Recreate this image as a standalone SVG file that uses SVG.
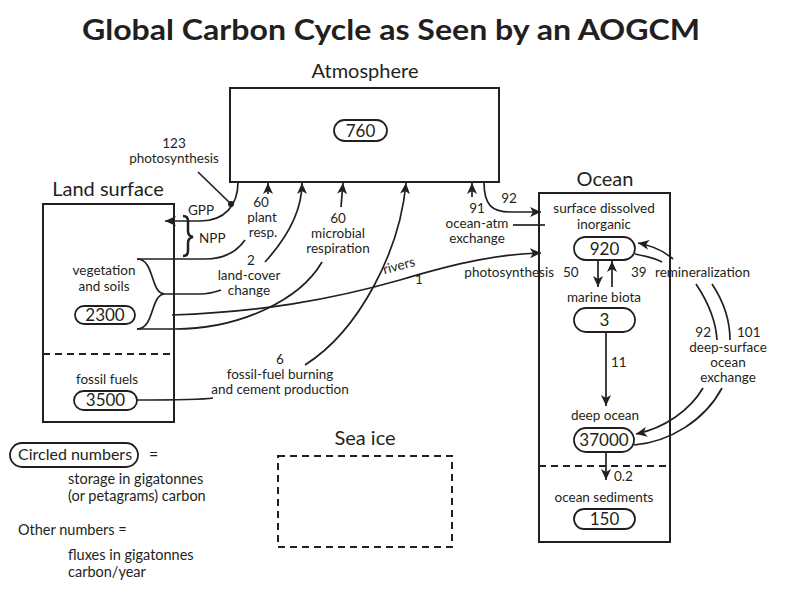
<svg xmlns="http://www.w3.org/2000/svg" width="788" height="598" viewBox="0 0 788 598">
<defs>
<marker id="ah" markerUnits="userSpaceOnUse" markerWidth="12" markerHeight="10" refX="11" refY="5" orient="auto">
<path d="M0,0 L11,5 L0,10 L3,5 z" fill="#231f20"/>
</marker>
<style>
text{font-family:Lato,"Open Sans","Liberation Sans",sans-serif;fill:#231f20}
.t{font-size:13.5px}
.c{text-anchor:middle}
.h{font-size:20px}
.n{font-size:17px;text-anchor:middle}
.lg{font-size:14.5px}
.box{fill:none;stroke:#231f20;stroke-width:2}
.dash{fill:none;stroke:#231f20;stroke-width:2;stroke-dasharray:7,5}
.pill{fill:#fff;stroke:#231f20;stroke-width:1.8}
.ln{fill:none;stroke:#231f20;stroke-width:1.7}
.ar{fill:none;stroke:#231f20;stroke-width:1.7;marker-end:url(#ah)}
</style>
</defs>
<rect width="788" height="598" fill="#fff"/>
<text x="391" y="40" text-anchor="middle" font-size="28" font-weight="bold" textLength="618" lengthAdjust="spacingAndGlyphs">Global Carbon Cycle as Seen by an AOGCM</text>

<g id="atmosphere">
<text class="h c" x="365" y="78">Atmosphere</text>
<rect class="box" x="230" y="88" width="269" height="94"/>
<rect class="pill" x="334" y="120" width="53" height="21" rx="10.5"/>
<text class="n" x="360.5" y="137">760</text>
</g>

<g id="land">
<text class="h c" x="108" y="196">Land surface</text>
<rect class="box" x="43" y="204" width="131" height="218"/>
<line class="dash" x1="43" y1="354" x2="174" y2="354"/>
<text class="t c" x="104" y="275" font-size="14.5">vegetation</text>
<text class="t c" x="104" y="291" font-size="14.5">and soils</text>
<rect class="pill" x="75" y="306" width="60" height="18" rx="9"/>
<text class="n" x="105" y="321" font-size="16">2300</text>
<text class="t c" x="107" y="384" font-size="14.5">fossil fuels</text>
<rect class="pill" x="74" y="391" width="63" height="19" rx="9.5"/>
<text class="n" x="105.5" y="406" font-size="16">3500</text>
</g>

<g id="ocean">
<text class="h c" x="605" y="186">Ocean</text>
<rect class="box" x="539" y="193" width="131" height="349"/>
<line class="dash" x1="539" y1="466" x2="670" y2="466"/>
<text class="t c" x="604" y="213" font-size="14.5">surface dissolved</text>
<text class="t c" x="604" y="229" font-size="14.5">inorganic</text>
<rect class="pill" x="574" y="237" width="61" height="23" rx="11.5"/>
<text class="n" x="604.5" y="255">920</text>
<text class="t c" x="604" y="302" font-size="14.5">marine biota</text>
<rect class="pill" x="574" y="308" width="61" height="24" rx="12"/>
<text class="n" x="604.5" y="326">3</text>
<text class="t c" x="605" y="420" font-size="14.5">deep ocean</text>
<rect class="pill" x="574" y="428" width="60" height="24" rx="12"/>
<text class="n" x="604" y="446">37000</text>
<text class="t c" x="604" y="502" font-size="14.5">ocean sediments</text>
<rect class="pill" x="574" y="509" width="61" height="20" rx="10"/>
<text class="n" x="604.5" y="525">150</text>
</g>

<g id="seaice">
<text class="h c" x="365" y="445">Sea ice</text>
<rect class="dash" x="278" y="456" width="174" height="91"/>
</g>

<g id="legend">
<rect class="pill" x="10" y="443" width="128" height="24" rx="12"/>
<text x="18" y="460" font-size="16">Circled numbers</text>
<text x="149" y="460" font-size="16">=</text>
<text class="lg" x="68" y="484">storage in gigatonnes</text>
<text class="lg" x="68" y="501">(or petagrams) carbon</text>
<text class="lg" x="18" y="535">Other numbers =</text>
<text class="lg" x="68" y="560">fluxes in gigatonnes</text>
<text class="lg" x="68" y="577">carbon/year</text>
</g>

<g id="connectors">
<path class="ar" d="M238,182 C238,205 225,221 200,221 L165,221"/>
<line class="ln" x1="198" y1="172" x2="231" y2="204"/>
<circle cx="231" cy="204" r="3" fill="#231f20"/>
<path d="M183,216 Q188,216 188,221 L188,231 Q188,236 193,237 Q188,238 188,243 L188,251 Q188,256 183,256" fill="none" stroke="#231f20" stroke-width="2.5"/>
<path class="ln" d="M137,259 C155,259 150,294 165,294 C150,294 155,329 137,329"/>
<path class="ln" d="M137,259 L205,259 C225,259 238,250 245,240"/>
<path class="ln" d="M165,294 L200,294 C210,294 215,292 221,290"/>
<path class="ln" d="M137,329 L175,329 C240,329 300,300 322,262"/>
<path class="ar" d="M268,194 L268,183"/>
<path class="ar" d="M265,262 C285,240 302,212 302,183"/>
<path class="ar" d="M341,207 L343,183"/>
<path class="ln" d="M137,400 C170,400 200,400 213,398"/>
<path class="ar" d="M305,365 C360,330 400,250 406,183"/>
<path class="ar" d="M172,315 C260,312 330,300 400,280 C460,262 500,254 541,253"/>
<path class="ar" d="M472,197 L472,183"/>
<path class="ar" d="M484,182 C484,205 492,212 510,212 L541,212"/>
<line class="ln" x1="513" y1="225" x2="545" y2="225"/>
<path class="ar" d="M598,260 L598,287"/>
<path class="ar" d="M612,287 L612,261"/>
<path class="ar" d="M606,332 L606,406"/>
<path class="ar" d="M606,452 L606,480"/>
<path class="ar" d="M673,259 C665,252 655,246 638,243"/>
<path class="ln" d="M635,254 C645,256 655,258 662,262"/>
<path class="ln" d="M712,284 C724,302 730,322 730,340"/>
<path class="ln" d="M696,284 C708,302 716,322 717,340"/>
<path class="ar" d="M703,388 C690,410 665,428 636,434"/>
<path class="ln" d="M722,388 C705,420 670,442 634,445"/>
</g>

<g id="labels">
<text class="t c" x="174" y="148">123</text>
<text class="t c" x="174" y="163">photosynthesis</text>
<text class="t" x="188" y="215" font-size="15">GPP</text>
<text class="t" x="199" y="243" font-size="15">NPP</text>
<text class="t c" x="261" y="207">60</text>
<text class="t c" x="262" y="222">plant</text>
<text class="t c" x="263" y="237">resp.</text>
<text class="t c" x="251" y="265">2</text>
<text class="t c" x="249" y="280">land-cover</text>
<text class="t c" x="249" y="295">change</text>
<text class="t c" x="338" y="223">60</text>
<text class="t c" x="338" y="238">microbial</text>
<text class="t c" x="338" y="253">respiration</text>
<text class="t c" x="400" y="270" transform="rotate(-15 400 270)">rivers</text>
<text class="t c" x="419" y="284">1</text>
<text class="t c" x="280" y="364">6</text>
<text class="t c" x="280" y="379">fossil-fuel burning</text>
<text class="t c" x="280" y="394">and cement production</text>
<text class="t c" x="477" y="213">91</text>
<text class="t c" x="477" y="228">ocean-atm</text>
<text class="t c" x="477" y="243">exchange</text>
<text class="t c" x="509" y="203">92</text>
<text class="t" x="554" y="277" text-anchor="end">photosynthesis</text>
<text class="t" x="563" y="277">50</text>
<text class="t" x="631" y="277">39</text>
<text class="t" x="655" y="277">remineralization</text>
<text class="t" x="611" y="367">11</text>
<text class="t" x="614" y="481">0.2</text>
<text class="t" x="711" y="337" text-anchor="end">92</text>
<text class="t" x="737" y="337">101</text>
<text class="t c" x="728" y="352">deep-surface</text>
<text class="t c" x="728" y="367">ocean</text>
<text class="t c" x="728" y="382">exchange</text>
</g>
</svg>
